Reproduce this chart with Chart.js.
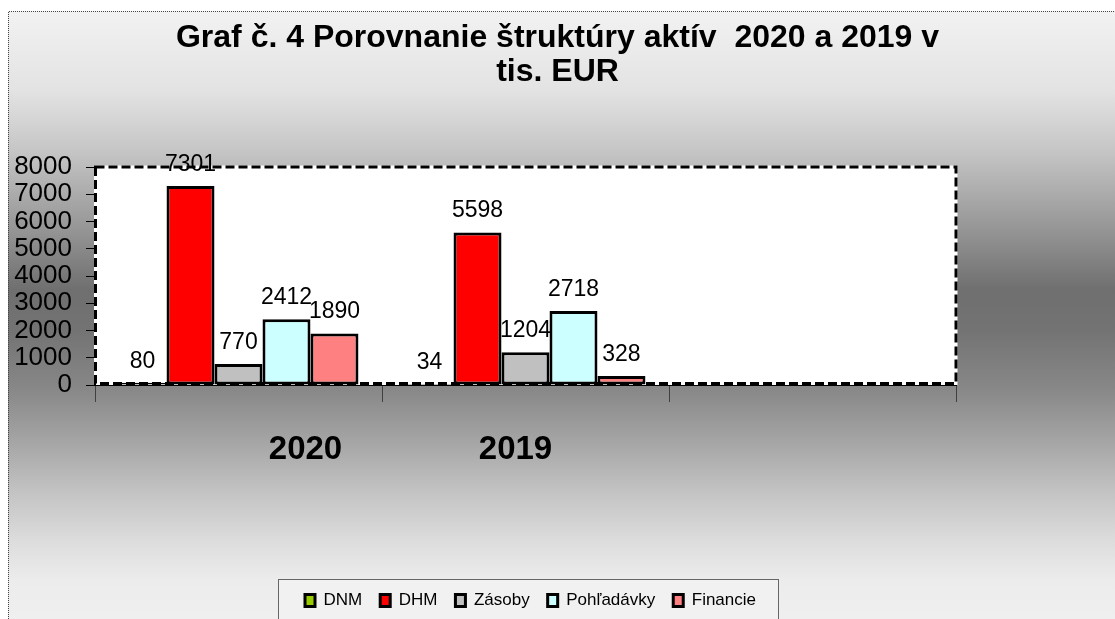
<!DOCTYPE html>
<html><head><meta charset="utf-8">
<script src="https://cdn.jsdelivr.net/npm/chart.js@4"></script>
<style>html,body{margin:0;padding:0;background:#fff;overflow:hidden}#wrap{width:1115px;height:619px;position:relative}</style>
</head><body><div id="wrap"><canvas id="c" width="1115" height="619"></canvas></div>
<script>
// ---- data ----
const categories = ['2020', '2019', ''];
const seriesNames = ['DNM', 'DHM', 'Zásoby', 'Pohľadávky', 'Financie'];
const dnm = [80, 34, null];
const dhm = [7301, 5598, null];
const zasoby = [770, 1204, null];
const pohladavky = [2412, 2718, null];
const financie = [1890, 328, null];
const yTicks = [0, 1000, 2000, 3000, 4000, 5000, 6000, 7000, 8000];
const titleLines = ['Graf č. 4 Porovnanie štruktúry aktív  2020 a 2019 v', 'tis. EUR'];

// ---- styles ----
const FONT = '"Liberation Sans", Arial, sans-serif';
const seriesColors = ['#99CC00', '#FF0000', '#C0C0C0', '#CCFFFF', '#FF8080'];
const labelShift = [67, -10, 0];
const legendShift = 5;

const bgPlugin = {
  id: 'bg',
  afterLayout(chart) {
    const lg = chart.legend;
    if (lg) { lg.left += legendShift; lg.right += legendShift; }
  },
  beforeDraw(chart) {
    const ctx = chart.ctx, W = chart.width, H = chart.height;
    ctx.save();
    ctx.fillStyle = '#fff'; ctx.fillRect(0, 0, W, H);
    const g = ctx.createLinearGradient(0, 11, 0, H);
    const stops = [[11,'#f2f2f2'],[90,'#e3e3e3'],[150,'#c6c6c6'],[230,'#959595'],[290,'#6f6f6f'],[330,'#737373'],[390,'#888888'],[440,'#a4a4a4'],[490,'#c2c2c2'],[540,'#dcdcdc'],[580,'#ececec'],[619,'#efefef']];
    stops.forEach(([y, c]) => g.addColorStop((y - 11) / (H - 11), c));
    ctx.fillStyle = g; ctx.fillRect(8, 11, W - 8, H - 11);
    ctx.strokeStyle = '#444'; ctx.lineWidth = 1; ctx.setLineDash([1, 1]);
    ctx.beginPath(); ctx.moveTo(8.5, H); ctx.lineTo(8.5, 11.5); ctx.lineTo(W, 11.5); ctx.stroke();
    ctx.setLineDash([]);
    const a = chart.chartArea;
    ctx.fillStyle = '#fff'; ctx.fillRect(a.left, a.top, a.right - a.left, a.bottom - a.top);
    const lg = chart.legend;
    if (lg && lg.legendHitBoxes && lg.legendHitBoxes.length) {
      const hb = lg.legendHitBoxes, f = hb[0], l = hb[hb.length - 1];
      const x0 = Math.round(f.left - 27), x1 = Math.round(l.left + l.width + 22), y0 = Math.round(f.top - 13);
      ctx.fillStyle = '#f1f1f1'; ctx.fillRect(x0, y0, x1 - x0, H - y0 + 5);
      ctx.strokeStyle = '#666'; ctx.lineWidth = 1;
      ctx.strokeRect(x0 + 0.5, y0 + 0.5, x1 - x0, H);
    }
    ctx.restore();
  },
  beforeDatasetsDraw(chart) {
    const ctx = chart.ctx, a = chart.chartArea;
    ctx.save();
    const l = a.left + 0.5, t = a.top, r = a.right, b = a.bottom - 1.5;
    ctx.lineWidth = 3;
    ctx.strokeStyle = '#fff'; ctx.setLineDash([]);
    ctx.strokeRect(l, t, r - l, b - t);
    ctx.strokeStyle = '#000'; ctx.setLineDash([9, 4]);
    ctx.strokeRect(l, t, r - l, b - t);
    ctx.restore();
  },
  afterDatasetsDraw(chart) {
    const ctx = chart.ctx;
    ctx.save();
    ctx.font = '23px ' + FONT; ctx.fillStyle = '#000';
    ctx.textAlign = 'center'; ctx.textBaseline = 'alphabetic';
    chart.data.datasets.forEach((ds, di) => {
      const meta = chart.getDatasetMeta(di);
      meta.data.forEach((bar, i) => {
        const v = ds.data[i];
        if (v == null) return;
        ctx.fillText(String(v), bar.x, bar.y - 15);
      });
    });
    ctx.restore();
  },
  afterDraw(chart) {
    const ctx = chart.ctx, xs = chart.scales.x, a = chart.chartArea;
    ctx.save();
    ctx.font = 'bold 33px ' + FONT; ctx.fillStyle = '#000';
    ctx.textAlign = 'center'; ctx.textBaseline = 'middle';
    chart.data.labels.forEach((c, i) => {
      if (!c) return;
      ctx.fillText(c, xs.getPixelForValue(i) + labelShift[i], a.bottom + 65);
    });
    ctx.restore();
  }
};

const seriesData = [dnm, dhm, zasoby, pohladavky, financie];
new Chart(document.getElementById('c'), {
  type: 'bar',
  data: {
    labels: categories,
    datasets: seriesNames.map((n, i) => ({
      label: n,
      data: seriesData[i],
      backgroundColor: seriesColors[i],
      borderColor: '#000',
      borderWidth: 3,
      borderSkipped: false,
      categoryPercentage: 0.836,
      barPercentage: 1,
      yAxisID: 'y'
    }))
  },
  options: {
    responsive: false,
    animation: false,
    devicePixelRatio: 1,
    events: [],
    layout: { padding: 0 },
    plugins: {
      tooltip: { enabled: false },
      title: {
        display: true,
        text: titleLines,
        color: '#000',
        font: { family: FONT, size: 32, weight: 'bold', lineHeight: '34px' },
        padding: { top: 21, bottom: 78 }
      },
      legend: {
        display: true,
        position: 'bottom',
        fullSize: false,
        maxHeight: 45,
        labels: {
          color: '#000',
          font: { family: FONT, size: 17 },
          boxWidth: 10,
          boxHeight: 12,
          padding: 18
        }
      }
    },
    scales: {
      x: {
        type: 'category',
        offset: true,
        grid: { display: true, drawOnChartArea: false, drawTicks: true, tickLength: 17, color: '#404040', offset: true },
        border: { display: true, color: '#000', width: 1 },
        ticks: { display: false },
        afterFit(s) { s.height = 189; }
      },
      y: {
        type: 'linear',
        position: 'left',
        min: 0, max: 8000,
        grid: { display: true, drawOnChartArea: false, drawTicks: true, tickLength: 9, color: '#000' },
        border: { display: false },
        ticks: {
          color: '#000', font: { family: FONT, size: 26 }, padding: 14,
          autoSkip: false, callback: v => String(v)
        },
        afterBuildTicks(s) { s.ticks = yTicks.map(v => ({ value: v })); },
        afterFit(s) { s.width = 95; }
      },
      y2: {
        type: 'linear',
        position: 'right',
        display: true,
        grid: { display: false, drawTicks: false },
        border: { display: false },
        ticks: { display: false },
        afterFit(s) { s.width = 159; }
      }
    }
  },
  plugins: [bgPlugin]
});
</script>
</body></html>
